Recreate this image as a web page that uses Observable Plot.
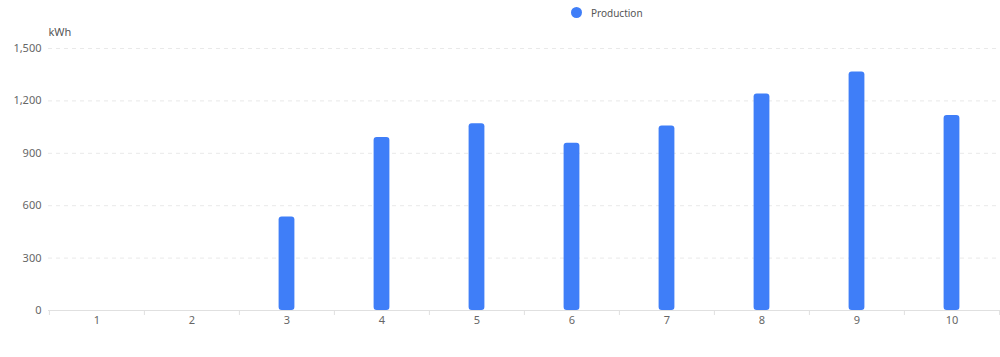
<!DOCTYPE html>
<html>
<head>
<meta charset="utf-8">
<script src="https://cdn.jsdelivr.net/npm/d3@7"></script>
<script src="https://cdn.jsdelivr.net/npm/@observablehq/plot@0.6"></script>
<style>
  html, body { margin: 0; padding: 0; background: #fff; overflow: hidden; }
  body { width: 1000px; height: 357px; position: relative; font-family: "Noto Sans", "Open Sans", sans-serif; }
  #legend { position: absolute; left: 571px; top: 6px; height: 13px; display: flex; align-items: center; font-size: 10px; color: #555; }
  #legend .sw { width: 11px; height: 11px; border-radius: 50%; margin-right: 9px; }
  #chart { position: absolute; left: 0; top: 24px; }
  #chart svg { overflow: visible; }
</style>
</head>
<body>
<div id="legend"></div>
<div id="chart"></div>
<script>
const categories = ["1", "2", "3", "4", "5", "6", "7", "8", "9", "10"];
const production = [0, 0, 536, 990, 1069, 958, 1057, 1240, 1366, 1116];
const yTicks = [0, 300, 600, 900, 1200, 1500];
const seriesName = "Production";
const unitLabel = "kWh";
const barColor = "#3f7ef8";

const data = categories.map((c, i) => ({ cat: c, value: production[i] }));

const W = 1000, H = 333, mL = 48, mR = 0, mT = 24, mB = 47;
const step = (W - mL - mR) / categories.length;
const barW = 16;

const legend = document.getElementById("legend");
legend.innerHTML = `<span class="sw" style="background:${barColor}"></span><span>${seriesName}</span>`;

const chart = Plot.plot({
  width: W,
  height: H,
  marginLeft: mL,
  marginRight: mR,
  marginTop: mT,
  marginBottom: mB,
  style: { fontFamily: '"Noto Sans", "Open Sans", sans-serif', fontSize: "11px", color: "#666", background: "transparent" },
  x: { domain: categories, padding: 0, label: null },
  y: { domain: [0, 1500], ticks: yTicks, label: null },
  marks: [
    Plot.gridY(yTicks.filter(d => d > 0), { stroke: "#e9e9e9", strokeOpacity: 1, strokeDasharray: "4,4" }),
    Plot.barY(data.filter(d => d.value > 0), {
      x: "cat", y: "value", fill: barColor,
      insetLeft: (step - barW) / 2, insetRight: (step - barW) / 2, rx: 3
    }),
    Plot.ruleY([0], { stroke: "#e0e0e0" }),
    Plot.ruleX(categories, { x: d => d, dx: -step / 2, y1: 0, y2: 0, insetTop: 5, stroke: "#e0e0e0" }),
    Plot.ruleX(categories.slice(-1), { x: d => d, dx: step / 2, y1: 0, y2: 0, insetTop: 5, stroke: "#e0e0e0" }),
    Plot.axisX({ tickSize: 0, tickPadding: 6, fill: "#666", label: null }),
    Plot.axisY({ ticks: yTicks, tickSize: 0, tickPadding: 7, tickFormat: d3.format(","), fill: "#666", label: null }),
    Plot.text([unitLabel], { frameAnchor: "top-left", dy: -20, dx: 0, textAnchor: "start", fill: "#555", fontSize: 11 })
  ]
});
document.getElementById("chart").appendChild(chart);
</script>
</body>
</html>
